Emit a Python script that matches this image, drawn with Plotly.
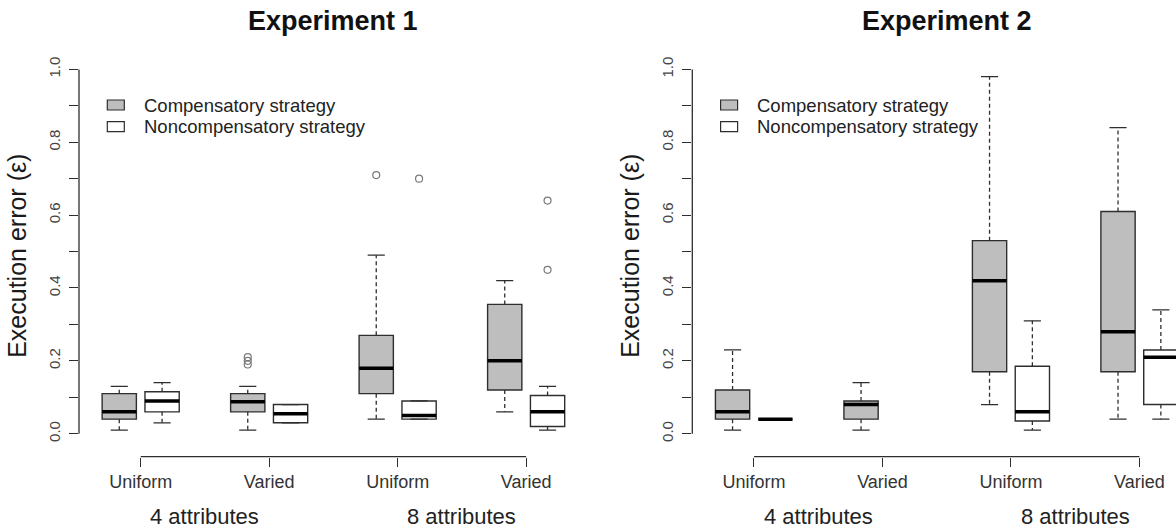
import plotly.graph_objects as go

# ---- data -------------------------------------------------------------
condition_labels = ["Uniform", "Varied", "Uniform", "Varied"]
attribute_labels = ["4 attributes", "8 attributes"]
strategy_names = ["Compensatory strategy", "Noncompensatory strategy"]
panel_titles = ["Experiment 1", "Experiment 2"]

# Five-number summaries per condition (4 attr uniform, 4 attr varied, 8 attr uniform, 8 attr varied)
exp1_comp_low = [0.01, 0.01, 0.04, 0.06]
exp1_comp_q1 = [0.04, 0.06, 0.11, 0.12]
exp1_comp_med = [0.06, 0.088, 0.18, 0.20]
exp1_comp_q3 = [0.11, 0.11, 0.27, 0.355]
exp1_comp_high = [0.13, 0.13, 0.49, 0.42]
exp1_comp_out = [[], [0.19, 0.20, 0.21], [0.71], []]

exp1_non_low = [0.03, 0.03, 0.04, 0.01]
exp1_non_q1 = [0.06, 0.03, 0.04, 0.02]
exp1_non_med = [0.09, 0.055, 0.05, 0.06]
exp1_non_q3 = [0.115, 0.08, 0.09, 0.105]
exp1_non_high = [0.14, 0.08, 0.09, 0.13]
exp1_non_out = [[], [], [0.70], [0.45, 0.64]]

exp2_comp_low = [0.01, 0.01, 0.08, 0.04]
exp2_comp_q1 = [0.04, 0.04, 0.17, 0.17]
exp2_comp_med = [0.06, 0.08, 0.42, 0.28]
exp2_comp_q3 = [0.12, 0.09, 0.53, 0.61]
exp2_comp_high = [0.23, 0.14, 0.98, 0.84]
exp2_comp_out = [[], [], [], []]

# no noncompensatory observations in the 4-attribute varied condition
exp2_non_low = [0.04, None, 0.01, 0.04]
exp2_non_q1 = [0.04, None, 0.035, 0.08]
exp2_non_med = [0.04, None, 0.06, 0.21]
exp2_non_q3 = [0.04, None, 0.185, 0.23]
exp2_non_high = [0.04, None, 0.31, 0.34]
exp2_non_out = [[], [], [], []]

# box positions: pairs at (1,2), (4,5), (7,8), (10,11)
comp_pos = [1, 4, 7, 10]
non_pos = [2, 5, 8, 11]
tick_pos = [1.5, 4.5, 7.5, 10.5]
attr_pos = [3, 9]

# ---- styling ----------------------------------------------------------
W, H = 1176, 530
FONT = "Liberation Sans, Arial, Helvetica, sans-serif"
EDGE = "#2e2e2e"
GREY = "#bebebe"
WHITE = "#ffffff"
BOX_W = 0.8

fig = go.Figure()


def add_series(xa, ya, name, fill, pos, low, q1, med, q3, high, outl):
    keep = [i for i in range(len(pos)) if med[i] is not None]
    p = [pos[i] for i in keep]
    fig.add_trace(go.Box(
        x=p, q1=[q1[i] for i in keep], median=[med[i] for i in keep],
        q3=[q3[i] for i in keep], lowerfence=[q1[i] for i in keep],
        upperfence=[q3[i] for i in keep], width=BOX_W, whiskerwidth=0,
        boxpoints=False, fillcolor=fill, line=dict(color=EDGE, width=1.4),
        name=name, showlegend=False, xaxis=xa, yaxis=ya, hoverinfo="skip",
    ))
    wx, wy, sx, sy, mx, my, ox, oy = [], [], [], [], [], [], [], []
    for i in keep:
        c = pos[i]
        wx += [c, c, None, c, c, None]
        wy += [q3[i], high[i], None, q1[i], low[i], None]
        sx += [c - BOX_W / 4, c + BOX_W / 4, None, c - BOX_W / 4, c + BOX_W / 4, None]
        sy += [high[i], high[i], None, low[i], low[i], None]
        mx += [c - BOX_W / 2, c + BOX_W / 2, None]
        my += [med[i], med[i], None]
        ox += [c] * len(outl[i])
        oy += list(outl[i])
    common = dict(xaxis=xa, yaxis=ya, showlegend=False, hoverinfo="skip")
    fig.add_trace(go.Scatter(x=wx, y=wy, mode="lines",
                             line=dict(color=EDGE, width=1.3, dash="4px,3px"), **common))
    fig.add_trace(go.Scatter(x=sx, y=sy, mode="lines",
                             line=dict(color=EDGE, width=1.3), **common))
    fig.add_trace(go.Scatter(x=mx, y=my, mode="lines",
                             line=dict(color="#000000", width=3.5), **common))
    if ox:
        fig.add_trace(go.Scatter(x=ox, y=oy, mode="markers",
                                 marker=dict(symbol="circle-open", size=7,
                                             color="#7a7a7a", line=dict(width=1.2)),
                                 **common))


add_series("x", "y", strategy_names[0], GREY, comp_pos, exp1_comp_low,
           exp1_comp_q1, exp1_comp_med, exp1_comp_q3, exp1_comp_high, exp1_comp_out)
add_series("x", "y", strategy_names[1], WHITE, non_pos, exp1_non_low,
           exp1_non_q1, exp1_non_med, exp1_non_q3, exp1_non_high, exp1_non_out)
add_series("x2", "y2", strategy_names[0], GREY, comp_pos, exp2_comp_low,
           exp2_comp_q1, exp2_comp_med, exp2_comp_q3, exp2_comp_high, exp2_comp_out)
add_series("x2", "y2", strategy_names[1], WHITE, non_pos, exp2_non_low,
           exp2_non_q1, exp2_non_med, exp2_non_q3, exp2_non_high, exp2_non_out)

# ---- axes -------------------------------------------------------------
unit_px = 42.83                    # pixels per x unit
left1, left2 = 79.0, 692.3
x_lo, x_hi = 0.06, 11.94
y_top_px, y_bot_px = 54.7, 456.7
y_lo, y_hi = -0.0631, 1.0404
ydom = [1 - y_bot_px / H, 1 - y_top_px / H]

yticks = [round(0.1 * k, 1) for k in range(11)]
yticktext = [f"{v:.1f}" if k % 2 == 0 else "" for k, v in enumerate(yticks)]

xax = dict(range=[x_lo, x_hi], tickvals=tick_pos, ticktext=condition_labels,
           ticks="outside", ticklen=9, tickwidth=1.3, tickcolor=EDGE,
           tickfont=dict(family=FONT, size=18, color="#333333"),
           showline=False, showgrid=False, zeroline=False, fixedrange=True)
yax = dict(range=[y_lo, y_hi], domain=ydom, tickvals=yticks, ticktext=yticktext,
           tickangle=-90, ticks="outside", ticklen=9, tickwidth=1.3, tickcolor=EDGE,
           ticklabelstandoff=3,
           tickfont=dict(family=FONT, size=15, color="#444444"),
           showline=False, showgrid=False, zeroline=False, fixedrange=True,
           title=dict(text="Execution error (\u03b5)", standoff=12,
                      font=dict(family=FONT, size=25, color="#1a1a1a")))

x2_hi = x_lo + (W - left2) / unit_px

fig.update_layout(
    width=W, height=H, margin=dict(l=0, r=0, t=0, b=0),
    paper_bgcolor="white", plot_bgcolor="white",
    font=dict(family=FONT, color="#222222"),
    boxmode="overlay", showlegend=False,
    xaxis=dict(xax, domain=[left1 / W, (left1 + (x_hi - x_lo) * unit_px) / W], anchor="y"),
    xaxis2=dict(xax, domain=[left2 / W, 1.0], range=[x_lo, x2_hi], anchor="y2"),
    yaxis=dict(yax, anchor="x"),
    yaxis2=dict(yax, anchor="x2"),
)

legend_rows_px = [105.0, 126.7]
legend_fills = [GREY, WHITE]

for k, (xa, left) in enumerate((("x", left1), ("x2", left2))):
    ya = "y" if xa == "x" else "y2"
    # axis lines drawn only over the labelled span, as in base-graphics plots
    fig.add_shape(type="line", xref=xa, yref="paper", x0=tick_pos[0], x1=tick_pos[-1],
                  y0=1 - y_bot_px / H, y1=1 - y_bot_px / H,
                  line=dict(color=EDGE, width=1.3))
    fig.add_shape(type="line", xref="paper", yref=ya, x0=left / W, x1=left / W,
                  y0=0, y1=1, line=dict(color=EDGE, width=1.3))
    # panel title
    fig.add_annotation(xref=xa, yref="paper", x=(x_lo + x_hi) / 2, y=1 - 21 / H,
                       text="<b>" + panel_titles[k] + "</b>",
                       showarrow=False, xanchor="center", yanchor="middle",
                       font=dict(family=FONT, size=27, color="#111111"))
    # attribute-count group labels, sitting on the bottom edge
    for lab, xp in zip(attribute_labels, attr_pos):
        fig.add_annotation(xref=xa, yref="paper", x=xp, y=0, text=lab,
                           showarrow=False, xanchor="center", yanchor="bottom",
                           borderpad=0,
                           font=dict(family=FONT, size=22, color="#222222"))
    # legend keys
    for name, fill, row in zip(strategy_names, legend_fills, legend_rows_px):
        fig.add_shape(type="rect", xref="paper", yref="paper",
                      x0=(left + 28.3) / W, x1=(left + 45.3) / W,
                      y0=1 - (row + 5) / H, y1=1 - (row - 5) / H,
                      fillcolor=fill, line=dict(color=EDGE, width=1.2))
        fig.add_annotation(xref="paper", yref="paper", x=(left + 63) / W, y=1 - row / H,
                           text=name, showarrow=False, xanchor="left", yanchor="middle",
                           font=dict(family=FONT, size=18.5, color="#222222"))

fig.write_html("out.html")
